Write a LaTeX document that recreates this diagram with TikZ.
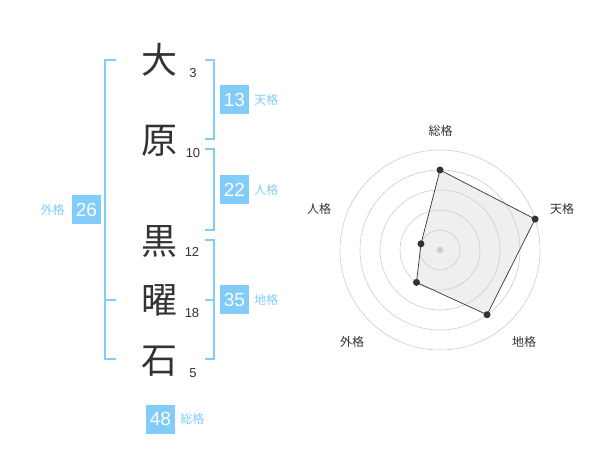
\documentclass[tikz,border=0pt]{standalone}
\usepackage{fontspec}
\setmainfont{Liberation Sans}
\newfontfamily\jpfont{Noto Sans CJK JP}
\usepackage{xcolor}
\usetikzlibrary{positioning}

\definecolor{kakublue}{HTML}{82CCFA}
\definecolor{inkgray}{HTML}{333333}
\definecolor{ringgray}{HTML}{CCCCCC}
\definecolor{areagray}{HTML}{EFEFEF}

\begin{document}
\begin{tikzpicture}[x=1pt, y=-1pt,
    kanji/.style={inner sep=0pt, text=inkgray, font=\jpfont\fontsize{36}{36}\selectfont},
    strokes/.style={inner sep=0pt, text=inkgray, font=\fontsize{13}{13}\selectfont},
    kakubox/.style={fill=kakublue, text=white, minimum size=29pt, inner sep=0pt, font=\fontsize{19}{19}\selectfont},
    kakuname/.style={inner sep=0pt, text=kakublue, font=\jpfont\fontsize{12}{12}\selectfont},
    axisname/.style={inner sep=0pt, text=inkgray, font=\jpfont\fontsize{12}{12}\selectfont},
    bracket/.style={draw=kakublue, line width=2pt},
    ring/.style={draw=ringgray, line width=0.6pt},
    dot/.style={circle, fill=inkgray, inner sep=0pt, minimum size=7pt}]

        \useasboundingbox (0,0) rectangle (600,470);

        % name characters and stroke counts
        \node[kanji] (k1) at (159,60) {大};
        \node[kanji] (k2) at (159,141) {原};
        \node[kanji] (k3) at (159,242) {黒};
        \node[kanji] (k4) at (159,300) {曜};
        \node[kanji] (k5) at (159,361) {石};

        \node[strokes] (s1) at (193,73) {3};
        \node[strokes] (s2) at (193,153) {10};
        \node[strokes] (s3) at (192,252) {12};
        \node[strokes] (s4) at (192,313) {18};
        \node[strokes] (s5) at (193,373) {5};

        % brackets
        \draw[bracket] (116,60) -- (105,60) -- (105,359) -- (116,359);
        \draw[bracket] (105,300) -- (116,300);
        \draw[bracket] (205,60) -- (214,60) -- (214,139) -- (205,139);
        \draw[bracket] (205,149) -- (214,149) -- (214,230) -- (205,230);
        \draw[bracket] (205,240) -- (214,240) -- (214,359) -- (205,359);
        \draw[bracket] (205,300) -- (214,300);

        % totals
        \node[kakubox] (ten) at (234.5,100) {13};
        \node[kakuname, right=5pt of ten] (tenname) {天格};

        \node[kakubox] (jin) at (234.5,190) {22};
        \node[kakuname, right=5pt of jin] (jinname) {人格};

        \node[kakubox] (chi) at (234.5,300) {35};
        \node[kakuname, right=5pt of chi] (chiname) {地格};

        \node[kakubox] (gai) at (86.5,210) {26};
        \node[kakuname, left=7pt of gai] (gainame) {外格};

        \node[kakubox] (so) at (160.5,419) {48};
        \node[kakuname, right=5pt of so] (soname) {総格};

        % radar chart
        \coordinate (c) at (440,250);
        \foreach \a/\v/\n in {90/4/so, 18/5/ten, -54/4/chi, -126/2/gai, 162/1/jin}{
            \pgfmathsetmacro\rr{\v*20}
            \coordinate (p-\n) at ([shift={(\a:\rr pt)}]c);
        }

        \fill[areagray] (p-so) -- (p-ten) -- (p-chi) -- (p-gai) -- (p-jin) -- cycle;
        \foreach \r in {20,40,...,100}
            \draw[ring] (c) circle[radius=\r pt];
        \fill[ringgray] (c) circle[radius=3.3pt];

        \draw[inkgray, line width=0.7pt]
            (p-so) -- (p-ten) -- (p-chi) -- (p-gai) -- (p-jin) -- cycle;
        \foreach \n in {so,ten,chi,gai,jin}
            \node[dot] at (p-\n) {};

        \node[axisname] (a-so) at (440.5,131) {総格};
        \node[axisname] (a-ten) at (562,209) {天格};
        \node[axisname] (a-jin) at (319,209) {人格};
        \node[axisname] (a-gai) at (352,342) {外格};
        \node[axisname] (a-chi) at (524,342) {地格};

    \end{tikzpicture}
\end{document}
